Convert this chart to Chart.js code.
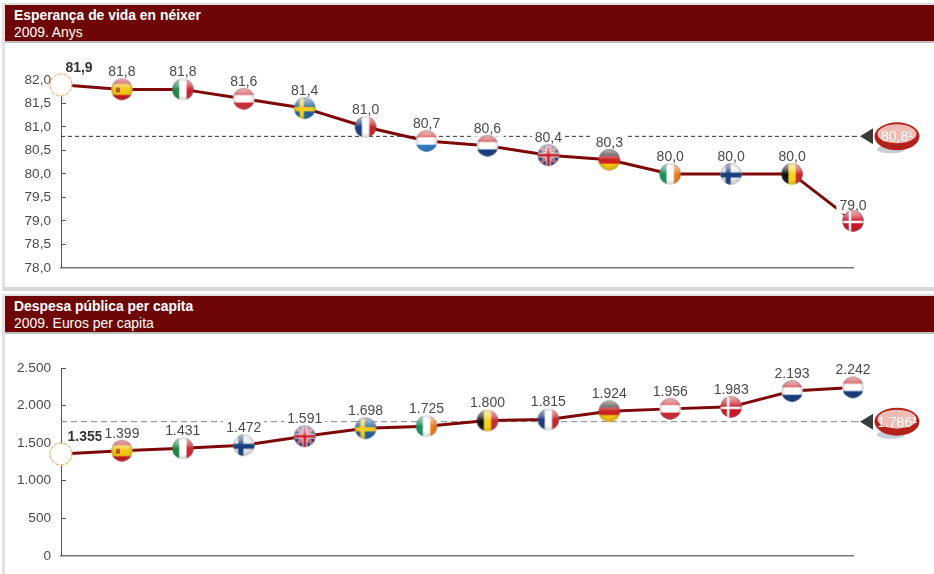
<!DOCTYPE html>
<html lang="ca">
<head>
<meta charset="utf-8">
<title>Esperança de vida i despesa pública</title>
<script src="https://cdn.jsdelivr.net/npm/chart.js@4"></script>
<style>
  html, body { margin: 0; padding: 0; background: #fff; }
  body { position: relative; width: 934px; height: 574px; overflow: hidden; font-family: "Liberation Sans", Arial, sans-serif; }
  .panel { position: absolute; left: 2px; width: 932px; box-sizing: border-box; background: #fff; border-left: 3px solid #e2e2e2; border-top: 2px solid #dedede; border-bottom: 4px solid #d8d8d8; }
  .head { height: 36px; box-sizing: border-box; padding: 2px 0 0 9px; background: #6f0606; color: #fff; font-size: 13.9px; line-height: 16.5px; }
  .head b { display: block; }
  .rule { height: 2px; background: #bdbdbd; }
  .plot { position: absolute; left: 0; width: 934px; }
</style>
</head>
<body>
<div class="panel" style="top:3px;height:288px">
  <div class="head"><b>Esperança de vida en néixer</b>2009. Anys</div><div class="rule"></div>
</div>
<div class="panel" style="top:294px;height:280px;border-bottom:0">
  <div class="head"><b>Despesa pública per capita</b>2009. Euros per capita</div><div class="rule"></div>
</div>
<div class="plot" style="top:44px;height:247px"><canvas id="chartVida"></canvas></div>
<div class="plot" style="top:335px;height:244px"><canvas id="chartDespesa"></canvas></div>

<script>
// life expectancy, 2009
const vidaPaisos = ['cat', 'es', 'it', 'at', 'se', 'fr', 'lu', 'nl', 'uk', 'de', 'ie', 'fi', 'be', 'dk'];
const vidaValors = [81.9, 81.8, 81.8, 81.6, 81.4, 81.0, 80.7, 80.6, 80.4, 80.3, 80.0, 80.0, 80.0, 79.0];
const vidaMitjana = 80.8;

// public spending per head, 2009
const despesaPaisos = ['cat', 'es', 'it', 'fi', 'uk', 'se', 'ie', 'be', 'fr', 'de', 'at', 'dk', 'nl', 'nl'];
const despesaValors = [1355, 1399, 1431, 1472, 1591, 1698, 1725, 1800, 1815, 1924, 1956, 1983, 2193, 2242];
const despesaMitjana = 1786;

const FONT = '"Liberation Sans", Arial, sans-serif';
const TEXT = '#4a4a4a';

const fmtVida = v => v.toFixed(1).replace('.', ',');
const fmtDespesa = v => String(v).replace(/\B(?=(\d{3})+$)/g, '.');

// flag painters, everything on a 22x22 tile
function hStripes(g, colors, weights) {
  const total = weights ? weights.reduce((a, b) => a + b) : colors.length;
  let y = 0;
  colors.forEach((c, i) => {
    const h = 22 * (weights ? weights[i] : 1) / total;
    g.fillStyle = c;
    g.fillRect(0, y, 22, h + 0.5);
    y += h;
  });
}
function vStripes(g, colors) {
  colors.forEach((c, i) => {
    g.fillStyle = c;
    g.fillRect(i * 22 / colors.length, 0, 22 / colors.length + 0.5, 22);
  });
}
function nordic(g, bg, cross, w) {
  g.fillStyle = bg;
  g.fillRect(0, 0, 22, 22);
  g.fillStyle = cross;
  g.fillRect(8 - w / 2, 0, w, 22);
  g.fillRect(0, 12 - w / 2, 22, w);
}
const painters = {
  es: g => {
    hStripes(g, ['#c8141c', '#f2c814', '#c8141c'], [1, 2, 1]);
    g.fillStyle = '#b5502a';
    g.fillRect(5, 9, 4, 5);
  },
  it: g => vStripes(g, ['#1f8a45', '#ffffff', '#d0252e']),
  at: g => hStripes(g, ['#cf2a34', '#ffffff', '#cf2a34']),
  se: g => nordic(g, '#1d5fa0', '#f4cc1c', 4.5),
  fr: g => vStripes(g, ['#1c3a80', '#ffffff', '#c8242c']),
  lu: g => hStripes(g, ['#dc3038', '#ffffff', '#2a7cc4']),
  nl: g => hStripes(g, ['#c8242c', '#ffffff', '#143a80']),
  de: g => hStripes(g, ['#222222', '#cf1f1f', '#f2c40c']),
  ie: g => vStripes(g, ['#17935a', '#ffffff', '#ee7b1e']),
  fi: g => nordic(g, '#e8e8e8', '#17407c', 5),
  be: g => vStripes(g, ['#111111', '#f6d41a', '#d3262e']),
  dk: g => nordic(g, '#cf1424', '#ffffff', 2.5),
  uk: g => {
    g.fillStyle = '#1d2f70';
    g.fillRect(0, 0, 22, 22);
    g.lineWidth = 3;
    g.strokeStyle = '#ffffff';
    g.beginPath();
    g.moveTo(0, 0); g.lineTo(22, 22); g.moveTo(22, 0); g.lineTo(0, 22);
    g.stroke();
    g.lineWidth = 1.5;
    g.strokeStyle = '#c8202c';
    g.stroke();
    g.fillStyle = '#ffffff';
    g.fillRect(8.5, 0, 5, 22);
    g.fillRect(0, 8.5, 22, 5);
    g.fillStyle = '#c8202c';
    g.fillRect(9.5, 0, 3, 22);
    g.fillRect(0, 9.5, 22, 3);
  }
};

function flagIcon(code) {
  const c = document.createElement('canvas');
  c.width = c.height = 24;
  const g = c.getContext('2d');
  if (code === 'cat') {
    // blank marker for the home region
    g.beginPath();
    g.arc(12, 12, 11, 0, Math.PI * 2);
    g.fillStyle = '#fff';
    g.fill();
    g.lineWidth = 1;
    g.strokeStyle = '#f6d48a';
    g.stroke();
    g.setLineDash([2, 3]);
    g.strokeStyle = '#ea8a74';
    g.stroke();
    return c;
  }
  g.save();
  g.beginPath();
  g.arc(12, 12, 10.7, 0, Math.PI * 2);
  g.clip();
  g.translate(1, 1);
  painters[code](g);
  g.setTransform(1, 0, 0, 1, 0, 0);
  // glass shine over the top half, shadow round the rim
  const shine = g.createLinearGradient(0, 1, 0, 12);
  shine.addColorStop(0, 'rgba(255,255,255,0.75)');
  shine.addColorStop(0.7, 'rgba(255,255,255,0.3)');
  shine.addColorStop(1, 'rgba(255,255,255,0)');
  g.fillStyle = shine;
  g.fillRect(0, 0, 24, 12);
  const rim = g.createRadialGradient(12, 11, 7, 12, 12, 11);
  rim.addColorStop(0, 'rgba(90,90,90,0)');
  rim.addColorStop(1, 'rgba(90,90,90,0.3)');
  g.fillStyle = rim;
  g.fillRect(0, 0, 24, 24);
  g.restore();
  return c;
}

// value labels sit on white boxes that cut through the lines behind them
const valueLabels = {
  id: 'valueLabels',
  afterDatasetDraw(chart, args, opts) {
    if (args.index !== 1) return;
    const { ctx } = chart;
    const pts = args.meta.data;
    ctx.save();
    ctx.textAlign = 'center';
    ctx.textBaseline = 'middle';
    pts.forEach((pt, i) => {
      const first = i === 0;
      const x = pt.x + (first ? opts.firstShift : 0);
      const y = pt.y - (i === pts.length - 1 ? opts.lastRise : 17);
      const text = opts.format(chart.data.datasets[1].data[i]);
      ctx.font = (first ? 'bold ' : '') + '14px ' + FONT;
      const w = ctx.measureText(text).width + 6;
      ctx.fillStyle = '#fff';
      ctx.fillRect(x - w / 2, y - 8, w, 16);
      ctx.fillStyle = first ? '#333' : TEXT;
      ctx.fillText(text, x, y);
    });
    ctx.restore();
  }
};

// arrow and red bubble at the right end of the average line
const averageBubble = {
  id: 'averageBubble',
  afterDraw(chart, args, opts) {
    const { ctx, chartArea } = chart;
    const y = chart.scales.y.getPixelForValue(opts.value);
    const x = chartArea.right;
    ctx.save();
    ctx.strokeStyle = opts.dashColor;
    ctx.setLineDash(opts.dash);
    ctx.beginPath();
    ctx.moveTo(x, y);
    ctx.lineTo(x + 7, y);
    ctx.stroke();
    ctx.setLineDash([]);

    ctx.fillStyle = '#3a3a3a';
    ctx.beginPath();
    ctx.moveTo(x + 7, y);
    ctx.lineTo(x + 20, y - 8);
    ctx.lineTo(x + 20, y + 8);
    ctx.closePath();
    ctx.fill();

    const cx = x + 44;
    ctx.fillStyle = 'rgba(190,198,210,0.85)';
    ctx.beginPath();
    ctx.ellipse(cx - 6, y + 13, 14, 4, 0, 0, Math.PI * 2);
    ctx.fill();
    ctx.fillStyle = '#b3211a';
    ctx.beginPath();
    ctx.ellipse(cx, y, 22.5, 14, 0, 0, Math.PI * 2);
    ctx.fill();
    ctx.fillStyle = '#efbcb4';
    ctx.beginPath();
    ctx.ellipse(cx, y - 2.5, 19.5, 9.5, 0, 0, Math.PI * 2);
    ctx.fill();

    ctx.fillStyle = '#fff';
    ctx.font = '14px ' + FONT;
    ctx.textAlign = 'center';
    ctx.textBaseline = 'middle';
    ctx.fillText(opts.label, cx, y + 1);
    ctx.restore();
  }
};

function drawPanel(id, cfg) {
  const n = cfg.values.length;
  new Chart(document.getElementById(id), {
    type: 'line',
    data: {
      labels: cfg.countries,
      datasets: [
        {
          label: 'Països',
          data: cfg.values,
          showLine: false,
          pointStyle: cfg.countries.map(flagIcon),
          clip: false
        },
        {
          label: 'Sèrie',
          data: cfg.values,
          borderColor: '#7d0808',
          borderWidth: 3,
          pointRadius: 0,
          tension: 0,
          clip: false
        },
        {
          label: 'Mitjana',
          data: new Array(n).fill(cfg.average),
          borderColor: cfg.dashColor,
          borderWidth: 1,
          borderDash: cfg.dash,
          pointRadius: 0,
          clip: false
        }
      ]
    },
    options: {
      responsive: true,
      maintainAspectRatio: false,
      animation: false,
      layout: { padding: { top: cfg.top, right: 81, bottom: 0, left: 0 } },
      scales: {
        x: {
          afterFit(scale) { scale.height = 0; },
          ticks: { display: false },
          grid: { display: false },
          border: { color: '#777', width: 1.5 }
        },
        y: {
          min: cfg.min,
          max: cfg.max,
          afterFit(scale) { scale.width = 61; },
          ticks: {
            stepSize: cfg.step,
            autoSkip: false,
            padding: 15,
            color: TEXT,
            font: { family: FONT, size: 13.6 },
            callback: v => cfg.format(v)
          },
          grid: { drawOnChartArea: false, tickLength: -5, tickColor: '#555' },
          border: { color: '#555', width: 1 }
        }
      },
      plugins: {
        legend: { display: false },
        tooltip: { enabled: false },
        valueLabels: { format: cfg.format, firstShift: cfg.firstShift, lastRise: cfg.lastRise },
        averageBubble: { value: cfg.average, label: cfg.bubble, dash: cfg.dash, dashColor: cfg.dashColor }
      }
    },
    plugins: [valueLabels, averageBubble]
  });
}

drawPanel('chartVida', {
  countries: vidaPaisos,
  values: vidaValors,
  average: vidaMitjana,
  bubble: fmtVida(vidaMitjana) + '¹',
  format: fmtVida,
  min: 78, max: 82, step: 0.5,
  top: 36,
  firstShift: 18, lastRise: 15,
  dash: [4, 3], dashColor: '#333'
});

drawPanel('chartDespesa', {
  countries: despesaPaisos,
  values: despesaValors,
  average: despesaMitjana,
  bubble: fmtDespesa(despesaMitjana) + '¹',
  format: fmtDespesa,
  min: 0, max: 2500, step: 500,
  top: 33,
  firstShift: 24, lastRise: 17,
  dash: [6, 4], dashColor: '#888'
});
</script>
</body>
</html>
